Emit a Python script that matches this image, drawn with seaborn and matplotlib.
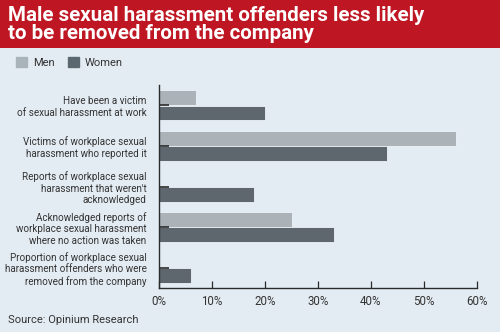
import matplotlib
matplotlib.use("Agg")
import matplotlib.pyplot as plt
import matplotlib.patches as mpatches
import seaborn as sns
import pandas as pd

categories = [
    "Have been a victim\nof sexual harassment at work",
    "Victims of workplace sexual\nharassment who reported it",
    "Reports of workplace sexual\nharassment that weren't\nacknowledged",
    "Acknowledged reports of\nworkplace sexual harassment\nwhere no action was taken",
    "Proportion of workplace sexual\nharassment offenders who were\nremoved from the company",
]
men = [7, 56, 0, 25, 0]
women = [20, 43, 18, 33, 6]
series = ["Men", "Women"]
xticks = [0, 10, 20, 30, 40, 50, 60]
xticklabels = ["0%", "10%", "20%", "30%", "40%", "50%", "60%"]

BG = "#E4ECF3"
RED = "#BE1622"
C_MEN = "#A9B4BA"
C_WOMEN = "#5B6870"
DARK = "#2b2b2b"

df = pd.DataFrame({
    "category": categories * 2,
    "value": men + women,
    "sex": [series[0]] * len(categories) + [series[1]] * len(categories),
})

sns.set_style("white")
plt.rcParams["font.family"] = ["Roboto", "DejaVu Sans"]

fig = plt.figure(figsize=(5.0, 3.32), dpi=100)
fig.patch.set_facecolor(BG)

# red title banner
banner = fig.add_axes([0, 1 - 48 / 332, 1, 48 / 332])
banner.set_facecolor(RED)
banner.set_xticks([]); banner.set_yticks([])
for s in banner.spines.values():
    s.set_visible(False)
fig.text(8 / 500, 1 - 6 / 332, "Male sexual harassment offenders less likely\nto be removed from the company",
         color="white", fontsize=14.8, fontweight="bold", va="top", ha="left", linespacing=0.95)

ax = fig.add_axes([159 / 500, 1 - 288 / 332, (477 - 159) / 500, (288 - 85) / 332])
ax.set_facecolor(BG)
sns.barplot(data=df, y="category", x="value", hue="sex", order=categories,
            hue_order=series, palette=[C_MEN, C_WOMEN], orient="h", width=0.76,
            gap=0.03, edgecolor="#EEF3F7", linewidth=0.6, ax=ax, legend=False)

ax.set_axisbelow(False)
ax.set_xlim(0, 60)
ax.set_ylim(len(categories) - 0.5, -0.5)
ax.set_xticks(xticks)
ax.set_xticklabels(xticklabels, fontsize=8.3, color="#333333")
ax.set_xlabel(""); ax.set_ylabel("")
ax.tick_params(axis="x", bottom=True, direction="in", length=5, width=0.9, color=DARK, pad=5)
ax.tick_params(axis="y", left=True, direction="in", length=7, width=1.2, color=DARK, pad=9,
               labelsize=7.1, labelcolor="#333333")
for lbl in ax.get_yticklabels():
    lbl.set_horizontalalignment("right")
    lbl.set_linespacing(1.2)
for side in ["top", "right"]:
    ax.spines[side].set_visible(False)
for side in ["left", "bottom"]:
    ax.spines[side].set_color(DARK)
    ax.spines[side].set_linewidth(1.0)

handles = [mpatches.Patch(color=C_MEN, label=series[0]),
           mpatches.Patch(color=C_WOMEN, label=series[1])]
fig.legend(handles=handles, loc="upper left", bbox_to_anchor=(6 / 500, 1 - 47 / 332),
           ncol=2, frameon=False, fontsize=8, handlelength=1.0, handleheight=1.0,
           handletextpad=0.5, columnspacing=1.2, labelcolor="#333333")

fig.text(8 / 500, 1 - 320 / 332, "Source: Opinium Research", fontsize=8, color="#333333",
         va="center", ha="left")

fig.savefig("out.png", dpi=100, facecolor=BG)
